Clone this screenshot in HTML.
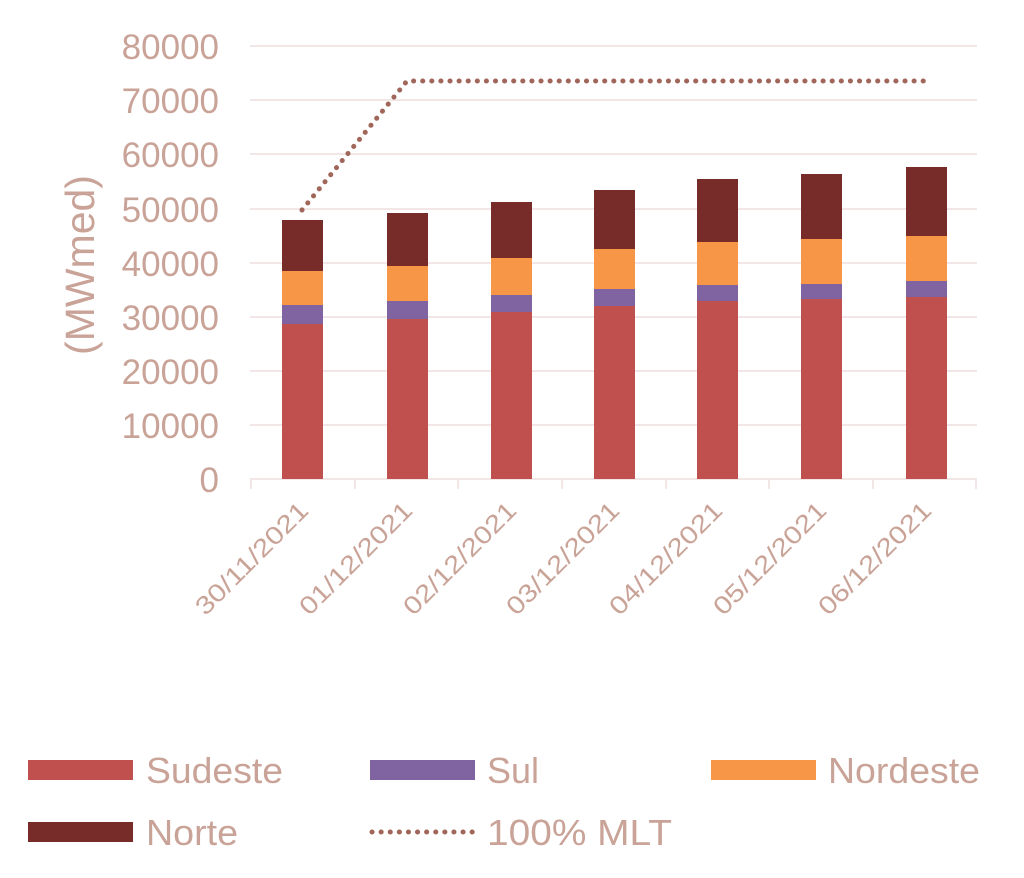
<!DOCTYPE html>
<html><head><meta charset="utf-8"><style>body{margin:0;background:#fff}</style></head><body>
<svg width="1024" height="873" xmlns="http://www.w3.org/2000/svg" font-family="Liberation Sans, sans-serif">
<g stroke="#f2e6e6" stroke-width="2">
<line x1="250" x2="977" y1="46" y2="46"/><line x1="250" x2="977" y1="100" y2="100"/><line x1="250" x2="977" y1="154" y2="154"/><line x1="250" x2="977" y1="209" y2="209"/><line x1="250" x2="977" y1="263" y2="263"/><line x1="250" x2="977" y1="317" y2="317"/><line x1="250" x2="977" y1="371" y2="371"/><line x1="250" x2="977" y1="425" y2="425"/>
<line x1="250" x2="977" y1="479" y2="479"/>
<line x1="251" x2="251" y1="479" y2="489"/><line x1="355" x2="355" y1="479" y2="489"/><line x1="458" x2="458" y1="479" y2="489"/><line x1="562" x2="562" y1="479" y2="489"/><line x1="666" x2="666" y1="479" y2="489"/><line x1="769" x2="769" y1="479" y2="489"/><line x1="873" x2="873" y1="479" y2="489"/><line x1="976" x2="976" y1="479" y2="489"/>
</g>
<g fill="#c9a397" font-size="35" text-anchor="end">
<text x="219" y="59">80000</text><text x="219" y="113">70000</text><text x="219" y="167">60000</text><text x="219" y="222">50000</text><text x="219" y="276">40000</text><text x="219" y="330">30000</text><text x="219" y="384">20000</text><text x="219" y="438">10000</text><text x="219" y="492">0</text>
</g>
<text transform="translate(94,265) rotate(-90)" text-anchor="middle" font-size="41" fill="#c9a397">(MWmed)</text>
<g id="bars">
<rect x="282" y="324" width="41" height="155" fill="#c0504d"/><rect x="282" y="305" width="41" height="19" fill="#8064a2"/><rect x="282" y="271" width="41" height="34" fill="#f79646"/><rect x="282" y="220" width="41" height="51" fill="#772c2a"/>
<rect x="387" y="319" width="41" height="160" fill="#c0504d"/><rect x="387" y="301" width="41" height="18" fill="#8064a2"/><rect x="387" y="266" width="41" height="35" fill="#f79646"/><rect x="387" y="213" width="41" height="53" fill="#772c2a"/>
<rect x="491" y="312" width="41" height="167" fill="#c0504d"/><rect x="491" y="295" width="41" height="17" fill="#8064a2"/><rect x="491" y="258" width="41" height="37" fill="#f79646"/><rect x="491" y="202" width="41" height="56" fill="#772c2a"/>
<rect x="594" y="306" width="41" height="173" fill="#c0504d"/><rect x="594" y="289" width="41" height="17" fill="#8064a2"/><rect x="594" y="249" width="41" height="40" fill="#f79646"/><rect x="594" y="190" width="41" height="59" fill="#772c2a"/>
<rect x="697" y="301" width="41" height="178" fill="#c0504d"/><rect x="697" y="285" width="41" height="16" fill="#8064a2"/><rect x="697" y="242" width="41" height="43" fill="#f79646"/><rect x="697" y="179" width="41" height="63" fill="#772c2a"/>
<rect x="801" y="299" width="41" height="180" fill="#c0504d"/><rect x="801" y="284" width="41" height="15" fill="#8064a2"/><rect x="801" y="239" width="41" height="45" fill="#f79646"/><rect x="801" y="174" width="41" height="65" fill="#772c2a"/>
<rect x="906" y="297" width="41" height="182" fill="#c0504d"/><rect x="906" y="281" width="41" height="16" fill="#8064a2"/><rect x="906" y="236" width="41" height="45" fill="#f79646"/><rect x="906" y="167" width="41" height="69" fill="#772c2a"/>
</g>
<polyline points="302,210 407,81 926,81" fill="none" stroke="#a0665a" stroke-width="5" stroke-dasharray="0.1 9" stroke-linecap="round"/>
<g fill="#c9a397" font-size="25" text-anchor="end">
<text transform="translate(310,512) rotate(-45)" textLength="148" lengthAdjust="spacingAndGlyphs">30/11/2021</text>
<text transform="translate(414,512) rotate(-45)" textLength="148" lengthAdjust="spacingAndGlyphs">01/12/2021</text>
<text transform="translate(518,512) rotate(-45)" textLength="148" lengthAdjust="spacingAndGlyphs">02/12/2021</text>
<text transform="translate(621,512) rotate(-45)" textLength="148" lengthAdjust="spacingAndGlyphs">03/12/2021</text>
<text transform="translate(724,512) rotate(-45)" textLength="148" lengthAdjust="spacingAndGlyphs">04/12/2021</text>
<text transform="translate(828,512) rotate(-45)" textLength="148" lengthAdjust="spacingAndGlyphs">05/12/2021</text>
<text transform="translate(933,512) rotate(-45)" textLength="148" lengthAdjust="spacingAndGlyphs">06/12/2021</text>
</g>
<g font-size="36" fill="#c9a397">
<rect x="28" y="760" width="105" height="20" fill="#c0504d"/><text x="146" y="783" textLength="137" lengthAdjust="spacingAndGlyphs">Sudeste</text>
<rect x="370" y="760" width="105" height="20" fill="#8064a2"/><text x="487" y="783">Sul</text>
<rect x="711" y="760" width="105" height="20" fill="#f79646"/><text x="828" y="783" textLength="152" lengthAdjust="spacingAndGlyphs">Nordeste</text>
<rect x="28" y="822" width="105" height="20" fill="#772c2a"/><text x="146" y="845" textLength="92" lengthAdjust="spacingAndGlyphs">Norte</text>
<line x1="372" x2="473" y1="832" y2="832" stroke="#a0665a" stroke-width="5" stroke-dasharray="0.1 9" stroke-linecap="round"/><text x="487" y="845" textLength="185" lengthAdjust="spacingAndGlyphs">100% MLT</text>
</g>
</svg>
</body></html>
